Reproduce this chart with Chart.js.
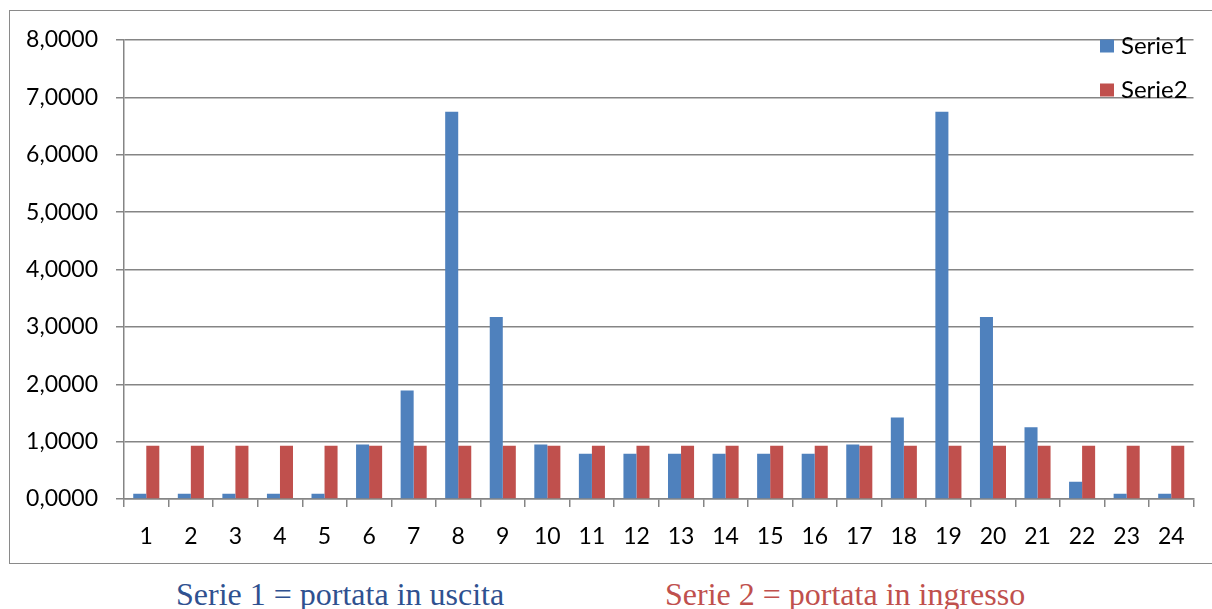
<!DOCTYPE html>
<html>
<head>
<meta charset="utf-8">
<script src="https://cdn.jsdelivr.net/npm/chart.js@4.4.0/dist/chart.umd.min.js"></script>
<style>
  html, body { margin: 0; padding: 0; background: #fff; width: 1212px; height: 609px; overflow: hidden; }
  #frame { position: absolute; left: 9px; top: 10px; width: 1230px; height: 554px; border: 1.5px solid #8a8a8a; box-sizing: border-box; }
  #wrap { position: absolute; left: 0; top: 0; width: 1212px; height: 560px; }
  .cap { position: absolute; top: 578px; font-family: "Liberation Serif", "Times New Roman", serif; font-size: 32px; line-height: 32px; white-space: nowrap; }
  #cap1 { left: 176px; color: #2f5190; }
  #cap2 { left: 665px; color: #c0504d; }
</style>
</head>
<body>
<div id="frame"></div>
<div id="wrap"><canvas id="chart" width="1212" height="560"></canvas></div>
<div class="cap" id="cap1">Serie 1 = portata in uscita</div>
<div class="cap" id="cap2">Serie 2 = portata in ingresso</div>
<script>
// Hours of the day (1..24)
const categories = ['1','2','3','4','5','6','7','8','9','10','11','12',
                    '13','14','15','16','17','18','19','20','21','22','23','24'];

// Serie1: outgoing flow
const serie1 = [0.09, 0.09, 0.09, 0.09, 0.09, 0.95, 1.89, 6.75, 3.17, 0.95, 0.79, 0.79,
                0.79, 0.79, 0.79, 0.79, 0.95, 1.42, 6.75, 3.17, 1.25, 0.30, 0.09, 0.09];

// Serie2: incoming flow (constant)
const serie2 = [0.93, 0.93, 0.93, 0.93, 0.93, 0.93, 0.93, 0.93, 0.93, 0.93, 0.93, 0.93,
                0.93, 0.93, 0.93, 0.93, 0.93, 0.93, 0.93, 0.93, 0.93, 0.93, 0.93, 0.93];

const seriesNames = ['Serie1', 'Serie2'];
const yTickLabels = ['0,0000','1,0000','2,0000','3,0000','4,0000','5,0000','6,0000','7,0000','8,0000'];

const AXIS_GRAY = '#858585';
const FONT = 'Lato, "Open Sans", sans-serif';

// Legend drawn inside the top-right corner of the plot, over the grid
const cornerLegend = {
  id: 'cornerLegend',
  afterDraw(chart) {
    const ctx = chart.ctx;
    const items = chart.data.datasets;
    ctx.save();
    ctx.font = '24px ' + FONT;
    ctx.textBaseline = 'middle';
    ctx.textAlign = 'left';
    items.forEach((ds, i) => {
      const cy = 46 + i * 44;
      ctx.fillStyle = ds.backgroundColor;
      ctx.fillRect(1100, cy - 6.5, 14, 13);
      ctx.fillStyle = '#000';
      ctx.fillText(ds.label, 1121, cy);
    });
    ctx.restore();
  }
};

new Chart(document.getElementById('chart'), {
  type: 'bar',
  data: {
    labels: categories,
    datasets: [
      { label: seriesNames[0], data: serie1, backgroundColor: '#4f81bd', borderWidth: 0 },
      { label: seriesNames[1], data: serie2, backgroundColor: '#c0504d', borderWidth: 0 }
    ]
  },
  options: {
    responsive: false,
    animation: false,
    events: [],
    categoryPercentage: 0.585,
    barPercentage: 1.0,
    layout: { padding: { left: 0, right: 18.5, top: 40, bottom: 11 } },
    plugins: { legend: { display: false }, tooltip: { enabled: false }, title: { display: false } },
    scales: {
      x: {
        grid: { display: true, drawOnChartArea: false, drawTicks: true, tickLength: 8, color: AXIS_GRAY, lineWidth: 1.5, offset: true },
        border: { display: true, color: AXIS_GRAY, width: 1.5 },
        ticks: { color: '#000', font: { family: FONT, size: 23 }, padding: 16, maxRotation: 0, autoSkip: false },
        afterFit(scale) { scale.height = 50; }
      },
      y: {
        min: 0, max: 8,
        grid: { color: AXIS_GRAY, lineWidth: 1.5, drawTicks: true, tickLength: 8 },
        border: { display: true, color: AXIS_GRAY, width: 1.5 },
        ticks: {
          stepSize: 1, color: '#000', font: { family: FONT, size: 23 }, padding: 18,
          callback: (v, i) => yTickLabels[i]
        },
        afterFit(scale) { scale.width = 124; }
      }
    }
  },
  plugins: [cornerLegend]
});
</script>
</body>
</html>
